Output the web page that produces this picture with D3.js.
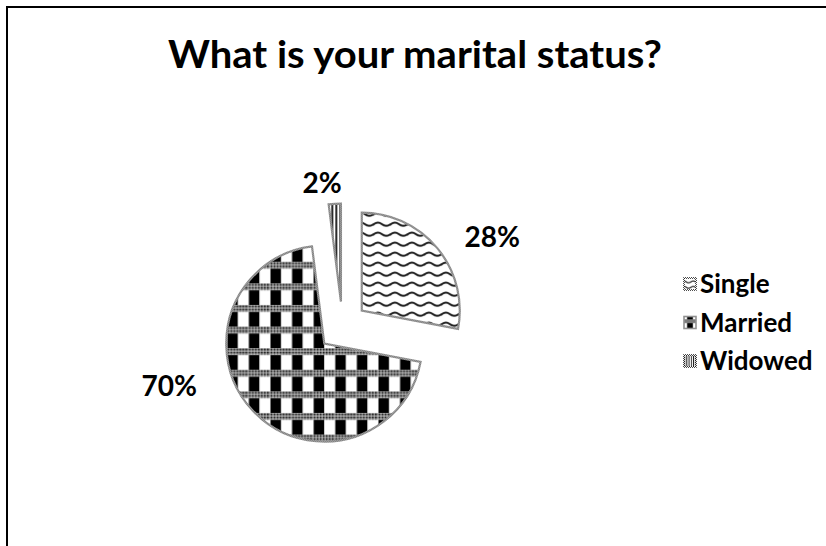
<!DOCTYPE html>
<html>
<head>
<meta charset="utf-8">
<script src="https://cdn.jsdelivr.net/npm/d3@7"></script>
<style>
  html, body { margin: 0; padding: 0; background: #fff; }
  svg { display: block; }
  text { font-family: Lato, "Open Sans", sans-serif; font-weight: bold; fill: #000; }
</style>
</head>
<body>
<svg id="chart" width="826" height="546"></svg>
<script>
// ---- data ----
const categories = ["Single", "Married", "Widowed"];
const values = [28, 70, 2];
const percentLabels = ["28%", "70%", "2%"];
const title = "What is your marital status?";

// ---- layout ----
const W = 826, H = 546;
const cx = 342.5, cy = 326.5, radius = 98, explode = 25;
// label placement relative to each slice's exploded apex: [angle (deg, clockwise from 12 o'clock), distance]
const labelPlacement = [[60.5, 150], [254.5, 161], [351, 120]];

const svg = d3.select("#chart");
const defs = svg.append("defs");

// dotted gray texture
const dots = defs.append("pattern").attr("id", "dots")
  .attr("patternUnits", "userSpaceOnUse").attr("width", 3).attr("height", 3);
dots.append("rect").attr("width", 3).attr("height", 3).attr("fill", "#b5b5b5");
dots.append("circle").attr("cx", 1.5).attr("cy", 1.5).attr("r", 1.15).attr("fill", "#222");

// outline checker texture
const chk = defs.append("pattern").attr("id", "chk")
  .attr("patternUnits", "userSpaceOnUse").attr("width", 2).attr("height", 2);
chk.append("rect").attr("width", 2).attr("height", 2).attr("fill", "#fff");
chk.append("rect").attr("width", 1).attr("height", 1).attr("fill", "#222");
chk.append("rect").attr("x", 1).attr("y", 1).attr("width", 1).attr("height", 1).attr("fill", "#222");

function makePatterns(suffix, scale, tx, ty) {
  // Single: waves
  const p1 = defs.append("pattern").attr("id", "pSingle" + suffix)
    .attr("patternUnits", "userSpaceOnUse").attr("width", 17).attr("height", 10)
    .attr("patternTransform", `translate(${tx},${ty}) scale(${scale})`);
  p1.append("rect").attr("width", 17).attr("height", 10).attr("fill", "#fff");
  p1.append("path").attr("d", "M-0.5,6 Q4.25,1.5 8.5,5 T17.5,5")
    .attr("fill", "none").attr("stroke", "#1e1e1e").attr("stroke-width", 2.1);

  // Married: black blocks with gray dotted bands
  const s = 21.6;
  const p2 = defs.append("pattern").attr("id", "pMarried" + suffix)
    .attr("patternUnits", "userSpaceOnUse").attr("width", s).attr("height", s)
    .attr("patternTransform", `translate(${tx},${ty}) scale(${scale})`);
  p2.append("rect").attr("width", s).attr("height", s).attr("fill", "#fff");
  p2.append("rect").attr("y", 0).attr("width", s).attr("height", 7).attr("fill", "url(#dots)");
  p2.append("rect").attr("x", 0.5).attr("y", 7).attr("width", 10.5).attr("height", s - 7).attr("fill", "#000");

  // Widowed: vertical stripes
  const p3 = defs.append("pattern").attr("id", "pWidowed" + suffix)
    .attr("patternUnits", "userSpaceOnUse").attr("width", 4).attr("height", 4)
    .attr("patternTransform", `translate(${tx},${ty}) scale(${scale})`);
  p3.append("rect").attr("width", 4).attr("height", 4).attr("fill", "#fff");
  p3.append("rect").attr("x", 0).attr("width", 1.7).attr("height", 4).attr("fill", "#000");
}
makePatterns("", 1, cx - 8, cy + 2);
makePatterns("L", 0.55, 680, 270);

const fills = categories.map(c => "url(#p" + c + ")");
const legendFills = categories.map(c => "url(#p" + c + "L)");

// border (left and top)
svg.append("path").attr("d", `M7,${H} V7 H${W}`)
  .attr("fill", "none").attr("stroke", "#000").attr("stroke-width", 2);

// title
svg.append("text").attr("x", 415).attr("y", 68)
  .attr("text-anchor", "middle").style("font-size", "38px")
  .attr("textLength", 494).attr("lengthAdjust", "spacingAndGlyphs")
  .text(title);

// pie
const pie = d3.pie().sort(null).value(d => d)(values);
const arc = d3.arc().innerRadius(0).outerRadius(radius);

const g = svg.append("g").attr("transform", `translate(${cx},${cy})`);
const slices = g.selectAll("g.slice").data(pie).join("g")
  .attr("class", "slice")
  .attr("transform", d => {
    const mid = (d.startAngle + d.endAngle) / 2;
    return `translate(${explode * Math.sin(mid)},${-explode * Math.cos(mid)})`;
  });

slices.append("path")
  .attr("d", arc)
  .attr("fill", (d, i) => fills[i])
  .attr("stroke", "url(#chk)")
  .attr("stroke-width", 2.2)
  .attr("stroke-linejoin", "miter");

// labels
slices.append("text")
  .attr("text-anchor", "middle")
  .attr("dy", "0.35em")
  .style("font-size", "28px")
  .attr("x", (d, i) => labelPlacement[i][1] * Math.sin(labelPlacement[i][0] * Math.PI / 180))
  .attr("y", (d, i) => -labelPlacement[i][1] * Math.cos(labelPlacement[i][0] * Math.PI / 180))
  .text((d, i) => percentLabels[i]);

// legend
const legendY = d3.scalePoint().domain(categories).range([284, 361]);
const lg = svg.append("g").selectAll("g").data(categories).join("g")
  .attr("transform", d => `translate(684,${legendY(d)})`);
lg.append("rect").attr("x", 0).attr("y", -6).attr("width", 12).attr("height", 12)
  .attr("fill", (d, i) => legendFills[i])
  .attr("stroke", "url(#chk)").attr("stroke-width", 1.6);
lg.append("text").attr("x", 16).attr("dy", "0.36em")
  .style("font-size", "26px")
  .text(d => d);
</script>
</body>
</html>
